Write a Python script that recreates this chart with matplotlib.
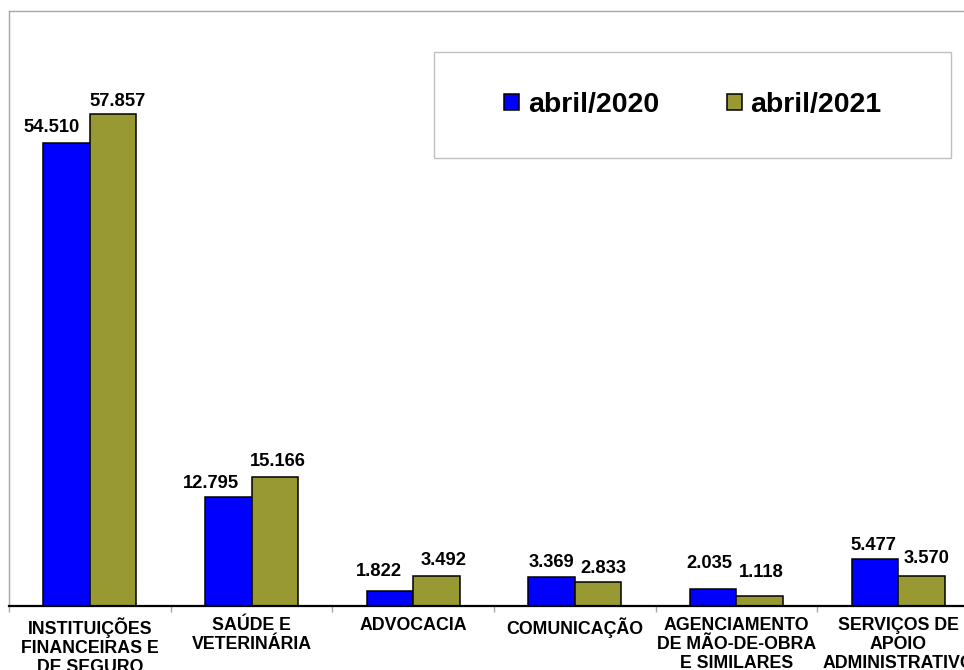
import numpy as np
import matplotlib.pyplot as plt
from matplotlib.patches import Rectangle

plt.rcParams['font.family'] = ['Liberation Sans', 'DejaVu Sans']
plt.rcParams['font.weight'] = 'bold'

categories = ['INSTITUIÇÕES\nFINANCEIRAS E\nDE SEGURO', 'SAÚDE E\nVETERINÁRIA',
              'ADVOCACIA', 'COMUNICAÇÃO', 'AGENCIAMENTO\nDE MÃO-DE-OBRA\nE SIMILARES',
              'SERVIÇOS DE\nAPOIO\nADMINISTRATIVO']
series_names = ['abril/2020', 'abril/2021']
vals_2020 = [54.510, 12.795, 1.822, 3.369, 2.035, 5.477]
vals_2021 = [57.857, 15.166, 3.492, 2.833, 1.118, 3.570]
labels_2020 = ['54.510', '12.795', '1.822', '3.369', '2.035', '5.477']
labels_2021 = ['57.857', '15.166', '3.492', '2.833', '1.118', '3.570']

# label nudges (pixels) so neighbouring labels don't collide
dx_2020 = [-15, -17, -11, 0, -4, -2]
dy_2020 = [11, 9, 15, 10, 21, 9]
dx_2021 = [4, 3, 7, 5, 2, 5]
dy_2021 = [8, 11, 11, 9, 19, 13]

blue = '#0000ff'
olive = '#999933'
gray = '#a6a6a6'

W, H = 964, 670
fig = plt.figure(figsize=(W / 100, H / 100), dpi=100)
ax = fig.add_axes([9 / W, (H - 606) / H, (979 - 9) / W, (606 - 11) / H])

x = np.arange(len(categories))
bw = 0.2876
b1 = ax.bar(x - bw / 2, vals_2020, bw, color=blue, edgecolor='black', linewidth=1.1,
            label=series_names[0], zorder=3)
b2 = ax.bar(x + bw / 2, vals_2021, bw, color=olive, edgecolor='black', linewidth=1.1,
            label=series_names[1], zorder=3)

for i in range(len(x)):
    ax.annotate(labels_2020[i], (x[i] - bw / 2, vals_2020[i]), xytext=(dx_2020[i], dy_2020[i]),
                textcoords='offset pixels', ha='center', va='baseline',
                fontsize=13.2, fontweight='bold', annotation_clip=False)
    ax.annotate(labels_2021[i], (x[i] + bw / 2, vals_2021[i]), xytext=(dx_2021[i], dy_2021[i]),
                textcoords='offset pixels', ha='center', va='baseline',
                fontsize=13.2, fontweight='bold', annotation_clip=False)

ax.set_xlim(-0.5, len(categories) - 0.5)
ax.set_ylim(0, 70)
ax.set_yticks([])

ax.set_xticks(x)
ax.set_xticklabels(categories, fontsize=12.8, fontweight='bold', linespacing=1.15)
ax.tick_params(axis='x', which='major', length=0, pad=8)
ax.set_xticks(np.arange(-0.5, len(categories)), minor=True)
ax.tick_params(axis='x', which='minor', length=4, width=1, color=gray, direction='out')

ax.spines['right'].set_visible(False)
ax.spines['bottom'].set_linewidth(1.6)
ax.spines['bottom'].set_color('black')
ax.spines['bottom'].set_zorder(4)
for s in ['left', 'top']:
    ax.spines[s].set_color(gray)
    ax.spines[s].set_linewidth(1)

# legend box
ax.add_patch(Rectangle((434 / W, 1 - 158 / H), 517 / W, 106 / H, transform=fig.transFigure,
                       facecolor='white', edgecolor='#c0c0c0', linewidth=1, zorder=5,
                       clip_on=False))
leg = ax.legend(handles=[b1, b2], loc='center', bbox_to_anchor=(693 / W, 1 - 105 / H),
                bbox_transform=fig.transFigure, ncol=2, frameon=False,
                prop={'size': 20.5, 'weight': 'bold'},
                handlelength=0.52, handleheight=0.52, handletextpad=0.3, columnspacing=2.4)
leg.set_zorder(6)

fig.savefig('out.png', dpi=100)
